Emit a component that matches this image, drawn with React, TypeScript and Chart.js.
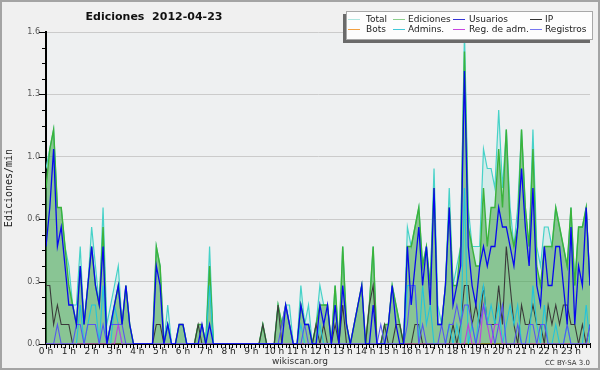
import React, { useEffect, useRef } from 'react';
import { Chart, registerables } from 'chart.js';

Chart.register(...registerables);

// 10-minute slots, 0 h .. 23:50
const HOUR_LABELS = ['0 h','1 h','2 h','3 h','4 h','5 h','6 h','7 h','8 h','9 h','10 h','11 h',
  '12 h','13 h','14 h','15 h','16 h','17 h','18 h','19 h','20 h','21 h','22 h','23 h'];

const TOTAL = [
  0.9,1.0,1.1,0.7,0.7,0.5,0.4,0.2,0.2,0.5,0.1,0.3,
  0.6,0.4,0.2,0.7,0.1,0.2,0.3,0.4,0.1,0.3,0.1,0,
  0,0,0,0,0,0.5,0.4,0,0.2,0,0,0.1,
  0.1,0,0,0,0.1,0.1,0,0.5,0,0,0,0,
  0,0,0,0,0,0,0,0,0,0.1,0,0,
  0,0.2,0.1,0.2,0.2,0,0,0.3,0.1,0.2,0,0.1,
  0.3,0.2,0.2,0,0.3,0,0.5,0.1,0,0.1,0.2,0.3,
  0,0.2,0.5,0,0,0.1,0.1,0.3,0.2,0.1,0,0.6,
  0.5,0.6,0.7,0.4,0.5,0.3,0.9,0.2,0.1,0.3,0.8,0.3,
  0.4,0.5,1.6,0.7,0.5,0.5,0.5,1.0,0.9,0.9,0.8,1.2,
  0.8,1.1,0.7,0.5,0.7,1.1,0.7,0.5,1.1,0.5,0.4,0.6,
  0.6,0.5,0.7,0.6,0.5,0.4,0.7,0.3,0.6,0.6,0.7,0.3,
];

const EDITS = [
  0.8,1.0,1.1,0.7,0.7,0.5,0.3,0.2,0.1,0.4,0.1,0.3,
  0.5,0.3,0.2,0.6,0,0.1,0.2,0.3,0.1,0.3,0.1,0,
  0,0,0,0,0,0.5,0.4,0,0.1,0,0,0.1,
  0.1,0,0,0,0.1,0.1,0,0.4,0,0,0,0,
  0,0,0,0,0,0,0,0,0,0.1,0,0,
  0,0.2,0.1,0.2,0.1,0,0,0.2,0.1,0.1,0,0.1,
  0.2,0.2,0.2,0,0.3,0,0.5,0.1,0,0.1,0.2,0.3,
  0,0.2,0.5,0,0,0.1,0.1,0.3,0.2,0.1,0,0.5,
  0.5,0.6,0.7,0.4,0.5,0.3,0.8,0.1,0.1,0.3,0.7,0.3,
  0.3,0.5,1.5,0.6,0.5,0.4,0.4,0.8,0.5,0.7,0.7,1.0,
  0.7,1.1,0.6,0.5,0.6,1.1,0.7,0.5,1.0,0.4,0.3,0.5,
  0.5,0.5,0.7,0.6,0.5,0.4,0.7,0.3,0.6,0.6,0.7,0.3,
];

const USERS = [
  0.5,0.7,1.0,0.5,0.6,0.4,0.2,0.2,0.1,0.4,0.1,0.3,
  0.5,0.3,0.2,0.5,0,0.1,0.2,0.3,0.1,0.3,0.1,0,
  0,0,0,0,0,0.4,0.3,0,0.1,0,0,0.1,
  0.1,0,0,0,0,0.1,0,0.1,0,0,0,0,
  0,0,0,0,0,0,0,0,0,0,0,0,
  0,0,0,0.2,0.1,0,0,0.2,0.1,0.1,0,0,
  0.2,0.1,0.2,0,0.2,0,0.3,0.1,0,0.1,0.2,0.3,
  0,0,0.2,0,0,0,0.1,0.3,0.1,0,0,0.5,
  0.2,0.4,0.6,0.3,0.5,0.2,0.8,0.1,0.1,0.3,0.7,0.2,
  0.3,0.4,1.4,0.5,0.3,0.2,0.4,0.5,0.4,0.5,0.5,0.7,
  0.6,0.6,0.5,0.4,0.6,0.9,0.6,0.4,0.8,0.3,0.2,0.5,
  0.3,0.3,0.5,0.5,0.3,0.1,0.6,0.1,0.4,0.3,0.7,0.3,
];

const IP = [
  0.3,0.3,0.1,0.2,0.1,0.1,0.1,0,0,0,0,0,
  0,0,0,0,0,0,0,0,0,0,0,0,
  0,0,0,0,0,0.1,0.1,0,0,0,0,0,
  0,0,0,0,0.1,0,0,0,0,0,0,0,
  0,0,0,0,0,0,0,0,0,0.1,0,0,
  0,0.2,0,0,0,0,0,0,0,0,0,0.1,
  0,0.1,0,0,0.1,0,0.2,0,0,0,0,0,
  0,0.2,0.3,0,0,0.1,0,0,0.1,0.1,0,0,
  0,0.1,0.1,0,0,0,0,0,0,0,0,0.1,
  0,0.1,0.3,0.3,0.1,0.2,0.1,0.3,0.1,0.1,0.1,0.3,
  0.1,0.5,0.3,0.1,0,0.2,0.1,0.1,0.2,0.1,0.1,0,
  0.2,0.1,0.2,0.1,0.2,0.2,0.1,0.1,0,0.1,0,0.1,
];

const BOTS = [
  0,0,0,0,0,0,0,0,0,0,0,0, 0,0,0,0,0,0,0,0,0,0,0,0,
  0,0,0,0,0,0,0,0,0,0,0,0, 0,0,0,0,0,0,0,0,0,0,0,0,
  0,0,0,0,0,0,0,0,0,0,0,0, 0,0,0,0,0,0,0,0,0,0,0,0,
  0,0,0,0,0,0,0,0,0,0,0,0, 0,0,0,0,0,0,0,0,0,0,0,0,
  0,0,0,0,0,0,0,0,0,0,0,0, 0,0,0,0,0,0,0,0,0,0,0,0,
  0,0,0,0,0,0,0,0,0,0,0,0, 0,0,0,0,0,0,0,0,0,0,0,0,
];

const ADMINS = [
  0,0,0,0,0,0,0,0,0,0.2,0,0.1,
  0.2,0.2,0,0.3,0,0,0.2,0.1,0,0,0,0,
  0,0,0,0,0,0,0,0,0.1,0,0,0,
  0,0,0,0,0,0,0,0.3,0,0,0,0,
  0,0,0,0,0,0,0,0,0,0,0,0,
  0,0,0,0,0,0,0,0.1,0,0,0,0,
  0.1,0,0,0,0,0,0,0,0,0,0,0,
  0,0,0,0,0,0,0,0,0,0,0,0.3,
  0.3,0.3,0,0.3,0.1,0.2,0,0,0,0,0.1,0,
  0.1,0,0.8,0,0.1,0,0.2,0.3,0.1,0.2,0.1,0.2,
  0,0.1,0.2,0.1,0.2,0,0,0,0.3,0.1,0,0.2,
  0,0,0.1,0,0,0.1,0,0,0,0,0.2,0,
];

const REG_ADM = [
  0,0,0,0,0,0,0,0,0,0,0,0,
  0,0,0,0,0,0,0,0.1,0,0,0,0,
  0,0,0,0,0,0,0,0,0,0,0,0, 0,0,0,0,0,0,0,0,0,0,0,0,
  0,0,0,0,0,0,0,0,0,0,0,0, 0,0,0,0,0,0,0,0,0,0,0,0,
  0,0,0,0,0,0,0,0,0,0,0,0, 0,0,0,0,0,0,0,0,0,0,0,0,
  0,0,0,0,0,0,0,0,0,0,0,0,
  0,0,0,0.1,0,0,0,0.2,0.1,0,0.1,0.1,
  0,0,0,0,0,0,0,0,0,0,0,0, 0,0,0,0,0,0,0,0,0,0,0,0,
];

const LOGS = [
  0,0,0,0.1,0,0,0,0,0.1,0.1,0,0.1,
  0.1,0.1,0,0.1,0,0.1,0.1,0.1,0.1,0,0,0,
  0,0,0,0,0,0,0,0,0,0,0,0, 0,0,0,0,0,0,0,0,0,0,0,0,
  0,0,0,0,0,0,0,0,0,0,0,0,
  0,0,0.1,0.2,0.1,0,0,0,0.1,0,0,0,
  0,0,0,0,0,0,0,0,0,0,0,0,
  0,0,0,0,0.1,0,0,0,0,0,0,0.1,
  0.3,0.3,0,0.1,0,0,0,0,0.1,0,0.1,0.1,
  0.2,0.1,0.2,0.2,0.1,0,0.1,0.2,0.1,0.1,0,0.1,
  0.2,0,0,0,0.1,0,0,0.1,0.1,0,0.1,0.1,
  0,0,0,0,0,0.1,0,0,0,0,0,0.1,
];

const isMajorY = (v: number) => Math.abs(v / 0.32 - Math.round(v / 0.32)) < 1e-6;
const pts = (arr: number[]) => arr.map((v, i) => ({ x: i, y: v }));

const LEGEND = [
  { label: 'Total', color: '#aee6e0', col: 0, row: 0 },
  { label: 'Ediciones', color: '#8ccf8c', col: 1, row: 0 },
  { label: 'Usuarios', color: '#3434d6', col: 2, row: 0 },
  { label: 'IP', color: '#333333', col: 3, row: 0 },
  { label: 'Bots', color: '#f2a040', col: 0, row: 1 },
  { label: 'Admins.', color: '#40c8d8', col: 1, row: 1 },
  { label: 'Reg. de adm.', color: '#c844e0', col: 2, row: 1 },
  { label: 'Registros', color: '#7676f0', col: 3, row: 1 },
];
const LEG_COLS = [[348, 366], [393, 408], [453, 469], [530, 545]];
const LEG_ROWS = [19, 29];

const decor = {
  id: 'decor',
  beforeDraw(chart: any) {
    const { ctx, width, height, chartArea: a } = chart;
    ctx.save();
    ctx.fillStyle = '#f0f0f0';
    ctx.fillRect(0, 0, width, height);
    ctx.strokeStyle = '#a4a4a4';
    ctx.lineWidth = 2;
    ctx.strokeRect(1, 1, width - 2, height - 2);
    ctx.fillStyle = '#eef0f1';
    ctx.fillRect(a.left, a.top, a.right - a.left, a.bottom - a.top);
    ctx.restore();
  },
  afterDraw(chart: any) {
    const { ctx } = chart;
    const xs = chart.scales.x;
    const ys = chart.scales.y;
    ctx.save();
    // tick marks
    ctx.strokeStyle = '#000';
    ctx.lineWidth = 1;
    ctx.beginPath();
    ys.ticks.forEach((t: any) => {
      const y = Math.round(ys.getPixelForValue(t.value)) + 0.5;
      const len = isMajorY(t.value) ? 6 : 3;
      ctx.moveTo(ys.right - 1 - len, y);
      ctx.lineTo(ys.right, y);
    });
    xs.ticks.forEach((t: any) => {
      const x = Math.round(xs.getPixelForValue(t.value)) + 0.5;
      const len = t.value % 6 === 0 ? 4 : 3;
      ctx.moveTo(x, xs.top);
      ctx.lineTo(x, xs.top + 1 + len);
    });
    ctx.stroke();

    // title
    ctx.fillStyle = '#111';
    ctx.textBaseline = 'middle';
    ctx.textAlign = 'center';
    ctx.font = 'bold 11px "DejaVu Sans"';
    ctx.fillText('Ediciones  2012-04-23', 154, 17);

    // footer
    ctx.fillStyle = '#333';
    ctx.font = '9px "DejaVu Sans"';
    ctx.fillText('wikiscan.org', 300, 362);
    ctx.textAlign = 'right';
    ctx.font = '7px "DejaVu Sans"';
    ctx.fillText('CC BY-SA 3.0', 590, 363);

    // legend box with shadow
    ctx.fillStyle = '#6a6a6a';
    ctx.fillRect(343, 14, 247, 29);
    ctx.fillStyle = '#fdfdfd';
    ctx.fillRect(346, 11, 247, 29);
    ctx.strokeStyle = '#a8a8a8';
    ctx.strokeRect(346.5, 11.5, 246, 28);
    ctx.font = '9px "DejaVu Sans"';
    ctx.textAlign = 'left';
    LEGEND.forEach((it) => {
      const [sx, tx] = LEG_COLS[it.col];
      const y = LEG_ROWS[it.row];
      ctx.strokeStyle = it.color;
      ctx.beginPath();
      ctx.moveTo(sx, y + 0.5);
      ctx.lineTo(sx + 12, y + 0.5);
      ctx.stroke();
      ctx.fillStyle = '#222';
      ctx.fillText(it.label, tx, y + 0.5);
    });
    ctx.restore();
  },
};

export default function App() {
  const ref = useRef<HTMLCanvasElement>(null);
  useEffect(() => {
    document.body.style.margin = '0';
    Chart.defaults.font.family = '"DejaVu Sans"';
    const line = (label: string, arr: number[], color: string, order: number, width = 1.1) => ({
      label, data: pts(arr), borderColor: color, borderWidth: width, fill: false, order,
      pointRadius: 0, tension: 0,
    });
    const chart = new Chart(ref.current!, {
      type: 'line',
      data: {
        datasets: [
          { ...line('Total', TOTAL, '#46d2c8', 9, 1.2), fill: 'origin', backgroundColor: 'rgba(64,208,192,0.14)' },
          { ...line('Ediciones', EDITS, '#3bb33b', 8, 1.4), fill: 'origin', backgroundColor: 'rgba(62,160,62,0.5)' },
          line('Bots', BOTS, '#f2a040', 7),
          line('IP', IP, '#3a3a3a', 6),
          line('Admins.', ADMINS, '#22c4dc', 5),
          line('Reg. de adm.', REG_ADM, '#c03ee0', 4),
          line('Registros', LOGS, '#5656f0', 3),
          line('Usuarios', USERS, '#0808ee', 2, 1.3),
        ] as any,
      },
      options: {
        responsive: false,
        animation: false,
        layout: { padding: { top: 32, right: 10, left: 0, bottom: 0 } },
        plugins: { legend: { display: false }, tooltip: { enabled: false }, title: { display: false } },
        scales: {
          x: {
            type: 'linear', min: 0, max: 143, z: 1,
            afterFit: (s: any) => { s.height = 26; },
            grid: { display: false, drawTicks: false },
            border: { color: '#000', width: 2 },
            ticks: {
              stepSize: 1, autoSkip: false, maxRotation: 0, minRotation: 0, padding: 2,
              font: { size: 9, family: '"DejaVu Sans"' }, color: '#222',
              callback: (v: any) => (v % 6 === 0 ? HOUR_LABELS[v / 6] : ''),
            },
          },
          y: {
            min: 0, max: 1.6,
            afterFit: (s: any) => { s.width = 46; },
            grid: {
              drawTicks: false,
              color: (c: any) => (c.tick && isMajorY(c.tick.value) ? '#cbcbcb' : 'rgba(0,0,0,0)'),
            },
            border: { color: '#000', width: 2 },
            ticks: {
              stepSize: 0.08, autoSkip: false, padding: 6,
              font: { size: 8, family: '"DejaVu Sans"' }, color: '#555',
              callback: (v: any) => (isMajorY(v) ? Number(v).toFixed(1) : ''),
            },
            title: {
              display: true, text: 'Ediciones/min', color: '#222',
              font: { size: 10, family: '"DejaVu Sans Mono"' },
              padding: { top: 3, bottom: 0 },
            },
          },
        },
      } as any,
      plugins: [decor],
    });
    return () => chart.destroy();
  }, []);
  return (
    <div style={{ width: 600, height: 370 }}>
      <canvas ref={ref} width={600} height={370} style={{ display: 'block' }} />
    </div>
  );
}
